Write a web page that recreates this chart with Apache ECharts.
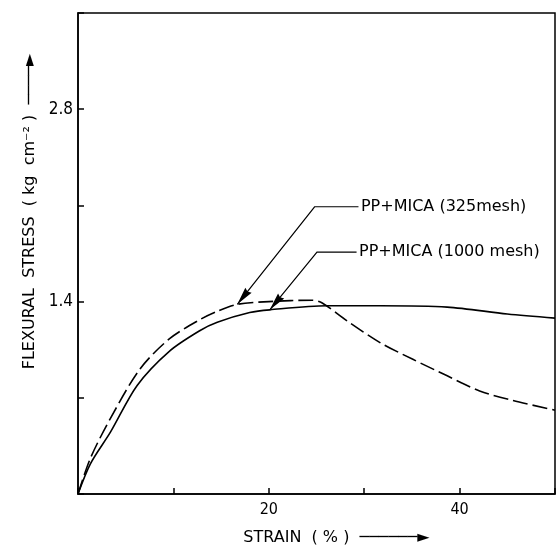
<!DOCTYPE html>
<html>
<head>
<meta charset="utf-8">
<script src="https://cdn.jsdelivr.net/npm/echarts@6/dist/echarts.min.js"></script>
<style>
  html, body { margin: 0; padding: 0; background: #fff; }
  #chart { width: 557px; height: 547px; }
</style>
</head>
<body>
<div id="chart"></div>
<script>
// PP + MICA (325 mesh), dashed
var strain325 = [0, 1.3, 3.4, 6.5, 9.6, 12.8, 14.6, 16.7, 20, 24.6, 25.6, 28.2, 31.7, 35.1, 38.7, 42.1, 45.6, 50]
var stress325 = [0, 0.26, 0.55, 0.91, 1.13, 1.27, 1.33, 1.38, 1.40, 1.41, 1.39, 1.26, 1.10, 0.98, 0.86, 0.75, 0.68, 0.61]
// PP + MICA (1000 mesh), solid
var strain1000 = [0, 1.3, 3.4, 6.2, 9.6, 12.8, 14.6, 18, 20.1, 26.1, 31.7, 38.7, 45, 50]
var stress1000 = [0, 0.22, 0.45, 0.79, 1.04, 1.19, 1.25, 1.32, 1.34, 1.37, 1.37, 1.36, 1.31, 1.28]

var xLabels = [20, 40]
var yLabels = [1.4, 2.8]

// annotation leaders: [text end, elbow, arrow tip]
var label325 = { text: 'PP+MICA (325mesh)', pts: [[29.4, 2.09], [24.8, 2.09], [16.7, 1.38]] }
var label1000 = { text: 'PP+MICA (1000 mesh)', pts: [[29.2, 1.76], [25.05, 1.76], [20.1, 1.34]] }
var notes = [label325, label1000]

var font = 'DejaVu Sans Condensed'
var nameFont = 'DejaVu Sans'
// arrowhead pointing up, tip at the centre of the box
var arrowPath = 'path://M0,0 L-3.5,16 L0,14.5 L3.5,16 Z M0,-16 L0,-16'

function pairs(xs, ys) { return xs.map(function (x, i) { return [x, ys[i]] }) }
function hasVal(list, v) { return list.some(function (t) { return Math.abs(t - v) < 1e-6 }) }

var chart = echarts.init(document.getElementById('chart'))

var option = {
  backgroundColor: '#fff',
  animation: false,
  grid: {
    left: 78, right: 2, top: 13, bottom: 53, outerBoundsMode: 'none',
    show: true, borderColor: '#000', borderWidth: 1.5
  },
  xAxis: {
    type: 'value', min: 0, max: 50, interval: 10,
    name: 'STRAIN  ( % )  ──────►', nameLocation: 'middle', nameGap: 36,
    nameTextStyle: { fontFamily: nameFont, fontSize: 16, color: '#000', padding: [0, 0, 0, 40] },
    axisLine: { lineStyle: { color: '#000', width: 1.5 } },
    axisTick: { inside: true, length: 6, lineStyle: { color: '#000', width: 1.5 } },
    axisLabel: {
      fontFamily: font, fontSize: 16, color: '#000', margin: 8,
      formatter: function (v) { return hasVal(xLabels, v) ? String(v) : '' }
    },
    splitLine: { show: false }
  },
  yAxis: {
    type: 'value', min: 0, max: 3.5, interval: 0.7,
    name: 'FLEXURAL  STRESS  ( kg  cm⁻² )  ────►', nameLocation: 'middle', nameGap: 34,
    nameTextStyle: { fontFamily: nameFont, fontSize: 16, color: '#000', padding: [0, 0, 0, 84] },
    axisLine: { lineStyle: { color: '#000', width: 1.5 } },
    axisTick: { inside: true, length: 6, lineStyle: { color: '#000', width: 1.5 } },
    axisLabel: {
      fontFamily: font, fontSize: 17, color: '#000', margin: 5,
      formatter: function (v) { return hasVal(yLabels, v) ? v.toFixed(1) : '' }
    },
    splitLine: { show: false }
  },
  series: [
    {
      name: 'PP+MICA (325 mesh)', type: 'line', smooth: 0.3, showSymbol: false,
      data: pairs(strain325, stress325),
      lineStyle: { color: '#000', width: 1.6, type: [15, 5] }
    },
    {
      name: 'PP+MICA (1000 mesh)', type: 'line', smooth: 0.3, showSymbol: false,
      data: pairs(strain1000, stress1000),
      lineStyle: { color: '#000', width: 1.6 }
    },
    {
      // leader lines: label end -> elbow -> curve
      type: 'lines', coordinateSystem: 'cartesian2d', polyline: true, symbol: 'none',
      lineStyle: { color: '#000', width: 1.2, opacity: 1 },
      data: notes.map(function (a) { return { coords: a.pts } })
    },
    {
      type: 'scatter', symbol: 'circle', symbolSize: 1, silent: true,
      itemStyle: { color: 'rgba(0,0,0,0)', opacity: 1 },
      label: {
        show: true, position: 'right', distance: 2, color: '#000', fontFamily: nameFont, fontSize: 16,
        formatter: function (p) { return p.data.text }
      },
      data: notes.map(function (a) { return { value: a.pts[0], text: a.text } })
    }
  ]
}

chart.setOption(option)

// arrowheads at the curve end of each leader, turned along the diagonal
var heads = notes.map(function (a) {
  var p1 = chart.convertToPixel({ gridIndex: 0 }, a.pts[1])
  var p2 = chart.convertToPixel({ gridIndex: 0 }, a.pts[2])
  var ang = Math.atan2(-(p2[1] - p1[1]), p2[0] - p1[0]) * 180 / Math.PI - 90
  return { value: a.pts[2], symbolRotate: ang }
})

chart.setOption({
  series: [{}, {}, {}, {}, {
    type: 'scatter', silent: true, symbol: arrowPath, symbolSize: [8, 36], symbolKeepAspect: false,
    itemStyle: { color: '#000', opacity: 1 },
    data: heads
  }]
})
</script>
</body>
</html>
